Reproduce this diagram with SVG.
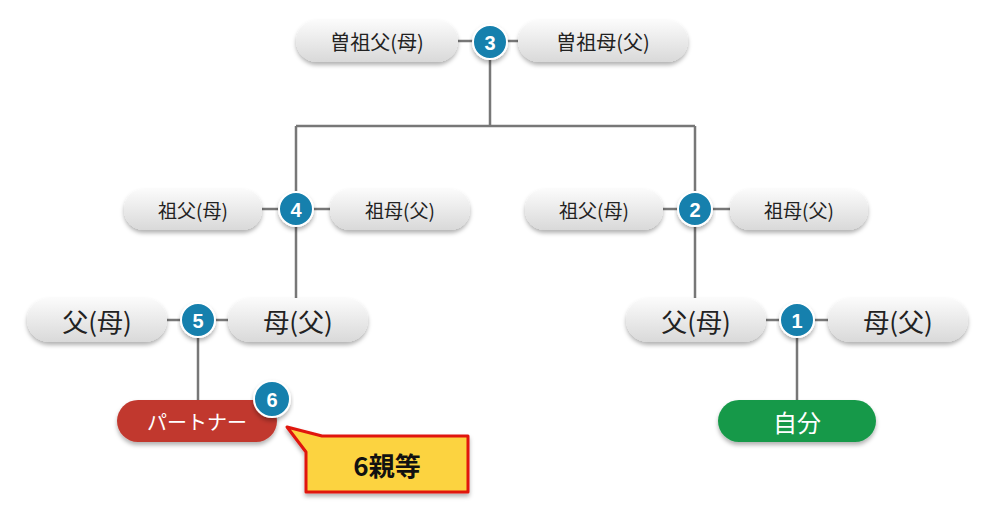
<svg xmlns="http://www.w3.org/2000/svg" width="1000" height="509" viewBox="0 0 1000 509">
<defs>
<linearGradient id="g" x1="0" y1="0" x2="0" y2="1"><stop offset="0" stop-color="#fbfbfb"/><stop offset="1" stop-color="#d9d9d9"/></linearGradient>
<filter id="sh" x="-10%" y="-20%" width="120%" height="150%"><feDropShadow dx="0" dy="3" stdDeviation="2" flood-color="#000" flood-opacity="0.3"/></filter>
</defs>
<style>
.p{fill:url(#g);filter:url(#sh)}
.t{font-family:"Noto Sans CJK JP","Liberation Sans",sans-serif;fill:#222;text-anchor:middle;dominant-baseline:central}
.c{fill:#1580ad;stroke:#fff;stroke-width:2;filter:url(#sh)}
.n{font-family:"Liberation Sans",sans-serif;font-weight:bold;fill:#fff;font-size:20px;text-anchor:middle;dominant-baseline:central}
.l{stroke:#777;stroke-width:2.5;fill:none}
</style>
<rect width="1000" height="509" fill="#fff"/>
<g id="connectors">
<path class="l" d="M458 41H518M490 41V126M296 126H695M296 126V300M695 126V300M262 209H330M663 209H730M167 320H228M766 320H828M198 320V400M797 320V400"/>
</g>
<g id="n-sofu"><rect class="p" x="296" y="20" width="162" height="42" rx="21"/><text class="t" x="377" y="41" font-size="20">曽祖父(母)</text></g>
<g id="n-sobo"><rect class="p" x="518" y="20" width="170" height="42" rx="21"/><text class="t" x="603" y="41" font-size="20">曽祖母(父)</text></g>
<g id="n-c3"><circle class="c" cx="490" cy="42" r="17"/><text class="n" x="490" y="43">3</text></g>
<g id="n-l-gf"><rect class="p" x="124" y="189" width="138" height="41" rx="20"/><text class="t" x="193" y="209" font-size="19">祖父(母)</text></g>
<g id="n-l-gm"><rect class="p" x="330" y="189" width="140" height="41" rx="20"/><text class="t" x="400" y="209" font-size="19">祖母(父)</text></g>
<g id="n-c4"><circle class="c" cx="296" cy="209" r="17"/><text class="n" x="296" y="210">4</text></g>
<g id="n-r-gf"><rect class="p" x="525" y="189" width="138" height="41" rx="20"/><text class="t" x="594" y="209" font-size="19">祖父(母)</text></g>
<g id="n-r-gm"><rect class="p" x="730" y="189" width="138" height="41" rx="20"/><text class="t" x="799" y="209" font-size="19">祖母(父)</text></g>
<g id="n-c2"><circle class="c" cx="695" cy="209" r="17"/><text class="n" x="695" y="210">2</text></g>
<g id="n-l-f"><rect class="p" x="27" y="298" width="140" height="44" rx="22"/><text class="t" x="97" y="320" font-size="26">父(母)</text></g>
<g id="n-l-m"><rect class="p" x="228" y="298" width="140" height="44" rx="22"/><text class="t" x="298" y="320" font-size="26">母(父)</text></g>
<g id="n-c5"><circle class="c" cx="198" cy="320" r="17"/><text class="n" x="198" y="321">5</text></g>
<g id="n-r-f"><rect class="p" x="626" y="298" width="140" height="44" rx="22"/><text class="t" x="696" y="320" font-size="26">父(母)</text></g>
<g id="n-r-m"><rect class="p" x="828" y="298" width="140" height="44" rx="22"/><text class="t" x="898" y="320" font-size="26">母(父)</text></g>
<g id="n-c1"><circle class="c" cx="797" cy="320" r="17"/><text class="n" x="797" y="321">1</text></g>
<g id="n-partner"><rect x="117" y="400" width="160" height="42" rx="21" fill="#c1392f" filter="url(#sh)"/><text class="t" x="197" y="421" font-size="20" fill="#fff" style="fill:#fff">パートナー</text></g>
<g id="n-c6"><circle class="c" cx="272" cy="399" r="18"/><text class="n" x="272" y="400">6</text></g>
<g id="n-self"><rect x="718" y="400" width="158" height="42" rx="21" fill="#17994a" filter="url(#sh)"/><text class="t" x="797" y="421" font-size="24" style="fill:#fff">自分</text></g>
<g id="n-callout"><path d="M287 427L322 436H468V492H306V452Z" fill="#fcd33f" stroke="#e0140e" stroke-width="3" stroke-linejoin="round" filter="url(#sh)"/><text class="t" x="387" y="464" font-size="26" font-weight="bold" style="fill:#111">6親等</text></g>
</svg>
